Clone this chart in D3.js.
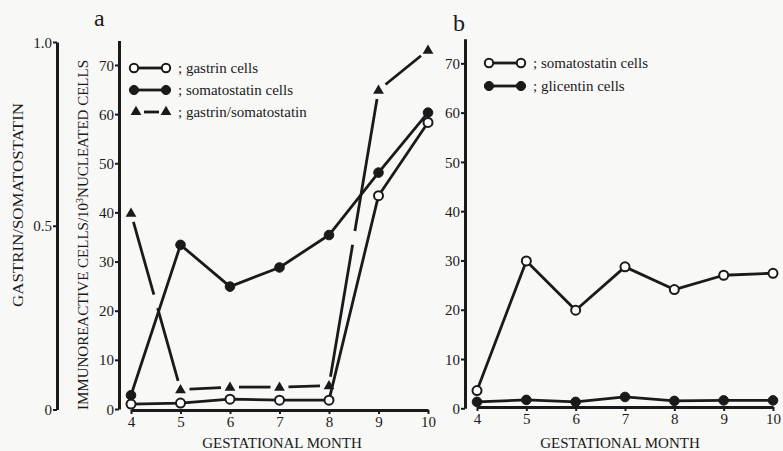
<!DOCTYPE html>
<html>
<head>
<meta charset="utf-8">
<script src="https://cdn.jsdelivr.net/npm/d3@7"></script>
<style>
  body { margin: 0; background: #f8f8f7; }
  svg { display: block; }
  svg text { font-family: "Liberation Serif", "DejaVu Serif", serif; }
  .axis path, .axis line { stroke: #1a1a1a; }
  .axis text { fill: #1a1a1a; font-size: 15px; }
</style>
</head>
<body>
<svg id="chart" width="783" height="451"></svg>
<script>
// data
var months = [4, 5, 6, 7, 8, 9, 10];
var gastrinA = [1.0, 1.2, 2.0, 1.8, 1.8, 43.4, 58.3];
var somatostatinA = [2.8, 33.4, 24.9, 28.8, 35.4, 48.1, 60.3];
var ratioA = [0.534, 0.054, 0.061, 0.061, 0.065, 0.869, 0.978];   // read on left axis
var somatostatinB = [3.6, 29.9, 19.9, 28.7, 24.1, 27.0, 27.4];
var glicentinB = [1.3, 1.7, 1.3, 2.3, 1.5, 1.6, 1.6];
var cellTicks = [0, 10, 20, 30, 40, 50, 60, 70];
var ratioTicks = [0, 0.5, 1.0];
var ratioTickLabels = ['0', '0.5', '1.0'];

var ink = '#1a1a1a';
var svg = d3.select('#chart');

// scales
var xA = d3.scaleLinear().domain([4, 10]).range([131, 428]);
var yA = d3.scaleLinear().domain([0, 75]).range([409, 40.4]);
var rA = d3.scaleLinear().domain([0, 1]).range([409.5, 42]);
var xB = d3.scaleLinear().domain([4, 10]).range([477, 773]);
var yB = d3.scaleLinear().domain([0, 75]).range([408.3, 38.7]);

function drawYAxis(scale, x, ticks, labels) {
    var ax = d3.axisLeft(scale).tickValues(ticks).tickSize(4).tickSizeOuter(0).tickPadding(1);
    if (labels) ax.tickFormat(function (d, i) { return labels[i]; });
    var g = svg.append('g').attr('class', 'axis').attr('transform', 'translate(' + x + ',0)').call(ax);
    g.attr('font-family', null).attr('font-size', null);
    g.select('path.domain').attr('stroke-width', 3);
    g.selectAll('.tick line').attr('stroke-width', 2);
    g.selectAll('.tick text').attr('dy', '0.34em');
    return g;
}

function drawXAxis(scale, y) {
    var g = svg.append('g').attr('class', 'axis').attr('transform', 'translate(0,' + y + ')')
        .call(d3.axisBottom(scale).tickValues(months).tickSize(4).tickSizeOuter(0).tickPadding(2).tickFormat(d3.format('d')));
    g.attr('font-family', null).attr('font-size', null);
    g.select('path.domain').attr('stroke-width', 3);
    g.selectAll('.tick line').attr('stroke-width', 2);
    return g;
}

// axes
drawYAxis(rA, 57, ratioTicks, ratioTickLabels);
drawYAxis(yA, 119, cellTicks);
drawXAxis(xA, 410);
drawYAxis(yB, 465, cellTicks);
drawXAxis(xB, 407);

function drawSeries(xs, ys, values, filled) {
    var pts = months.map(function (m, i) { return [xs(m), ys(values[i])]; });
    svg.append('path')
        .attr('d', d3.line()(pts))
        .attr('fill', 'none')
        .attr('stroke', ink)
        .attr('stroke-width', 2.8)
        .attr('stroke-linejoin', 'round');
    svg.append('g').selectAll('circle')
        .data(pts).enter()
        .append('circle')
        .attr('cx', function (d) { return d[0]; })
        .attr('cy', function (d) { return d[1]; })
        .attr('r', filled ? 4.8 : 4.5)
        .attr('fill', filled ? ink : '#fff')
        .attr('stroke', ink)
        .attr('stroke-width', filled ? 1 : 2);
}

// broken line for the ratio: gaps at each marker, one more gap in long runs
function drawBrokenSeries(xs, ys, values) {
    var pts = months.map(function (m, i) { return [xs(m), ys(values[i])]; });
    var g = svg.append('g');
    for (var i = 0; i < pts.length - 1; i++) {
        var a = pts[i], b = pts[i + 1];
        var dx = b[0] - a[0], dy = b[1] - a[1];
        var len = Math.sqrt(dx * dx + dy * dy);
        var ux = dx / len, uy = dy / len;
        var cuts = len > 120 ? [[9, len / 2 - 7], [len / 2 + 7, len - 9]] : [[9, len - 9]];
        cuts.forEach(function (c) {
            g.append('line')
                .attr('x1', a[0] + ux * c[0]).attr('y1', a[1] + uy * c[0])
                .attr('x2', a[0] + ux * c[1]).attr('y2', a[1] + uy * c[1])
                .attr('stroke', ink).attr('stroke-width', 2.8);
        });
    }
    g.selectAll('path.tri')
        .data(pts).enter()
        .append('path')
        .attr('class', 'tri')
        .attr('d', d3.symbol().type(d3.symbolTriangle).size(50))
        .attr('transform', function (d) { return 'translate(' + d[0] + ',' + (d[1] + 0.5) + ')'; })
        .attr('fill', ink);
}

drawSeries(xA, yA, gastrinA, false);
drawSeries(xA, yA, somatostatinA, true);
drawBrokenSeries(xA, rA, ratioA);
drawSeries(xB, yB, somatostatinB, false);
drawSeries(xB, yB, glicentinB, true);

// legends
function legendRow(x, y, label, kind) {
    var g = svg.append('g');
    if (kind === 'tri') {
        g.append('line').attr('x1', x + 10).attr('x2', x + 25).attr('y1', y).attr('y2', y)
            .attr('stroke', ink).attr('stroke-width', 2.8);
        [x + 2, x + 32].forEach(function (cx) {
            g.append('path').attr('d', d3.symbol().type(d3.symbolTriangle).size(50))
                .attr('transform', 'translate(' + cx + ',' + y + ')').attr('fill', ink);
        });
    } else {
        g.append('line').attr('x1', x).attr('x2', x + 32).attr('y1', y).attr('y2', y)
            .attr('stroke', ink).attr('stroke-width', 2.8);
        [x, x + 32].forEach(function (cx) {
            g.append('circle').attr('cx', cx).attr('cy', y).attr('r', kind === 'filled' ? 4.6 : 4.2)
                .attr('fill', kind === 'filled' ? ink : '#fff')
                .attr('stroke', ink).attr('stroke-width', kind === 'filled' ? 1 : 2);
        });
    }
    g.append('text').attr('x', x + 44).attr('y', y + 5)
        .attr('font-size', 15).attr('fill', ink).text(label);
}

legendRow(134, 68, '; gastrin cells', 'open');
legendRow(134, 90, '; somatostatin cells', 'filled');
legendRow(134, 112, '; gastrin/somatostatin', 'tri');
legendRow(489, 63, '; somatostatin cells', 'open');
legendRow(489, 86, '; glicentin cells', 'filled');

// titles
svg.append('text').attr('x', 94).attr('y', 26).attr('font-size', 24).attr('fill', ink).text('a');
svg.append('text').attr('x', 453).attr('y', 31).attr('font-size', 24).attr('fill', ink).text('b');

svg.append('text')
    .attr('transform', 'translate(23,205) rotate(-90)')
    .attr('text-anchor', 'middle').attr('font-size', 15).attr('fill', ink)
    .attr('textLength', 204).attr('lengthAdjust', 'spacingAndGlyphs')
    .text('GASTRIN/SOMATOSTATIN');

var yt = svg.append('text')
    .attr('transform', 'translate(88,235) rotate(-90)')
    .attr('text-anchor', 'middle').attr('font-size', 15).attr('fill', ink);
yt.append('tspan').text('IMMUNOREACTIVE CELLS/10');
yt.append('tspan').attr('font-size', 10).attr('dy', -5).text('3');
yt.append('tspan').attr('dy', 5).text('NUCLEATED CELLS');

svg.append('text').attr('x', 282).attr('y', 448).attr('text-anchor', 'middle')
    .attr('font-size', 15).attr('fill', ink).text('GESTATIONAL MONTH');
svg.append('text').attr('x', 620).attr('y', 448).attr('text-anchor', 'middle')
    .attr('font-size', 15).attr('fill', ink).text('GESTATIONAL MONTH');
</script>
</body>
</html>
